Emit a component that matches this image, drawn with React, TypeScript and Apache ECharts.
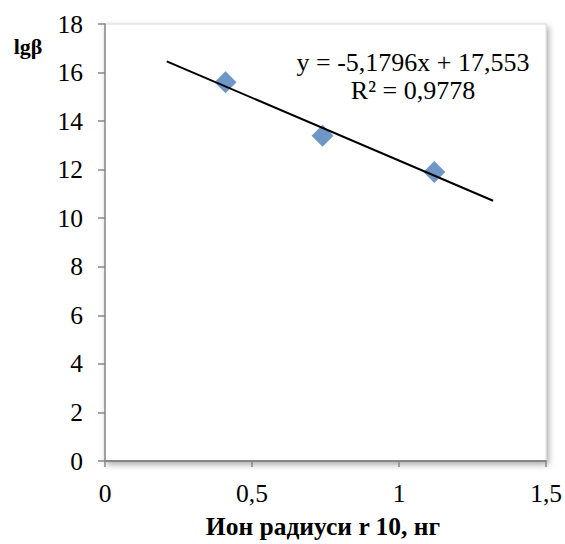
import React, { useEffect, useRef } from "react";
import * as echarts from "echarts";

const pointX = [0.41, 0.74, 1.12];
const pointY = [15.6, 13.4, 11.9];
const trendX = [0.21, 1.32];
const trendY = [16.46, 10.72];
const equationLines = ["y = -5,1796x + 17,553", "R² = 0,9778"];
const xTitle = "Ион радиуси r 10, нг";
const yTitle = "lgβ";

const FONT = "Liberation Serif";
const fmt = (v: number) => String(v).replace(".", ",");

export default function App() {
  const ref = useRef<HTMLDivElement>(null);
  useEffect(() => {
    const chart = echarts.init(ref.current!, null, { renderer: "svg" });
    const txt = (text: string, x: number, y: number, size: number, bold = false) => ({
      type: "text",
      x,
      y,
      style: {
        text,
        fontFamily: FONT,
        fontSize: size,
        fontWeight: bold ? "bold" : "normal",
        fill: "#000",
        textAlign: "center",
        textVerticalAlign: "middle",
      },
    });
    chart.setOption({
      animation: false,
      backgroundColor: "#fff",
      grid: {
        left: 105,
        right: 17,
        top: 24,
        bottom: 83,
        show: true,
        backgroundColor: "#fff",
        borderColor: "#d9d9d9",
        borderWidth: 1,
        shadowColor: "rgba(0,0,0,0.35)",
        shadowBlur: 6,
        shadowOffsetX: 2,
        shadowOffsetY: 3,
      },
      xAxis: {
        type: "value",
        min: 0,
        max: 1.5,
        interval: 0.5,
        splitLine: { show: false },
        axisLine: { lineStyle: { color: "#878787", width: 2 } },
        axisTick: { show: true, length: 6, lineStyle: { color: "#878787", width: 1.5 } },
        axisLabel: { color: "#000", fontFamily: FONT, fontSize: 25.5, margin: 19, formatter: fmt },
      },
      yAxis: {
        type: "value",
        min: 0,
        max: 18,
        interval: 2,
        splitLine: { show: false },
        axisLine: { show: true, lineStyle: { color: "#878787", width: 1.5 } },
        axisTick: { show: true, length: 7, lineStyle: { color: "#878787", width: 1.5 } },
        axisLabel: { color: "#000", fontFamily: FONT, fontSize: 25.5, margin: 22, formatter: fmt },
      },
      graphic: [
        txt(equationLines[0], 413, 62, 26),
        txt(equationLines[1], 413, 90, 26),
        txt(xTitle, 323, 526, 25.5, true),
        txt(yTitle, 28, 46, 22, true),
      ],
      series: [
        {
          type: "line",
          data: trendX.map((x, i) => [x, trendY[i]]),
          showSymbol: false,
          symbol: "none",
          lineStyle: { color: "#000", width: 2 },
          z: 3,
        },
        {
          type: "scatter",
          data: pointX.map((x, i) => [x, pointY[i]]),
          symbol: "diamond",
          symbolSize: 22,
          itemStyle: { color: "#4a7dba" },
          z: 2,
        },
      ],
    });
    return () => chart.dispose();
  }, []);
  return (
    <div
      ref={ref}
      style={{ position: "fixed", left: 0, top: 0, width: 565, height: 544 }}
    />
  );
}
